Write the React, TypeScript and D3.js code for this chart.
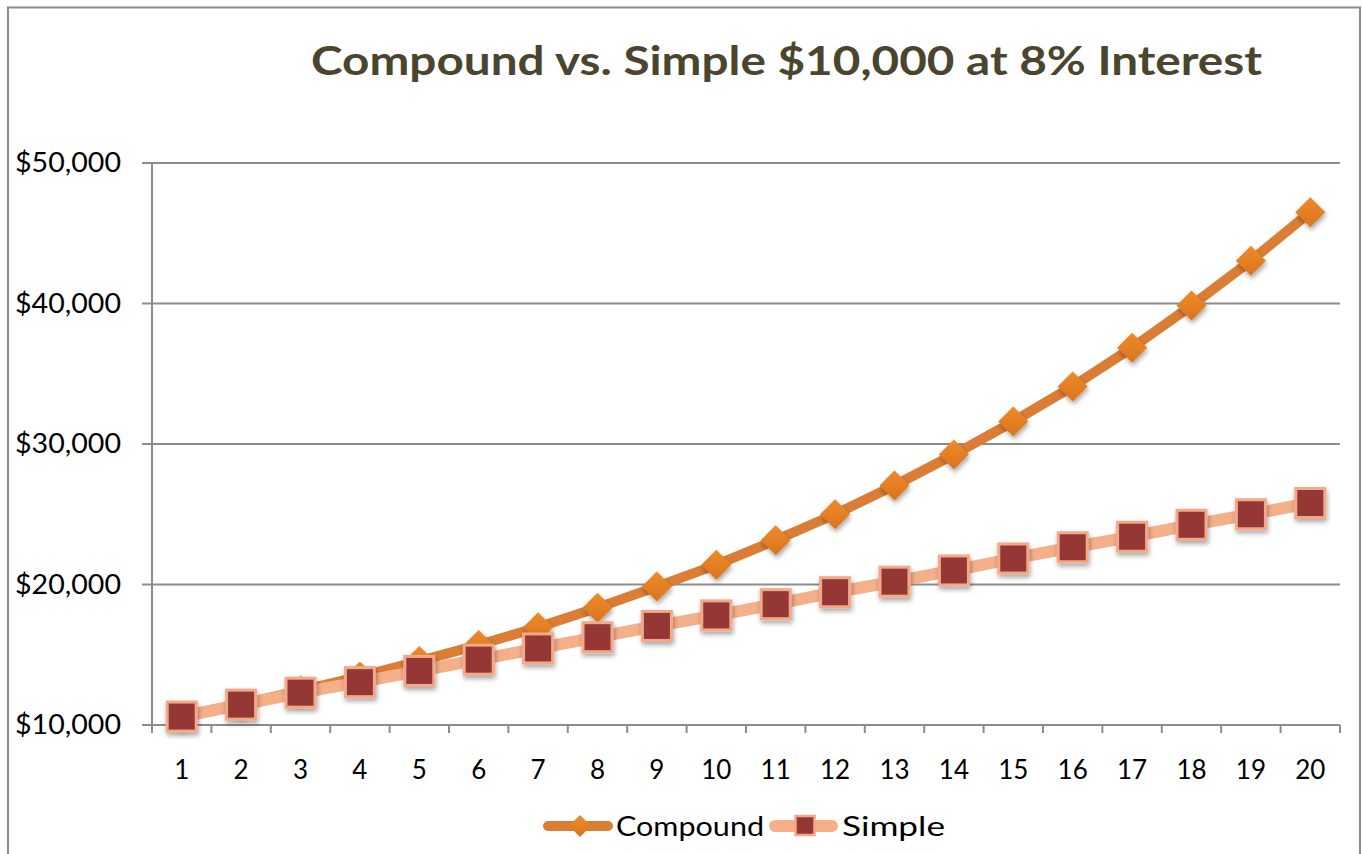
import React from "react";
import * as d3 from "d3";

const years = ["1","2","3","4","5","6","7","8","9","10","11","12","13","14","15","16","17","18","19","20"];
const compound = [10650, 11500, 12450, 13450, 14550, 15700, 16950, 18350, 19850, 21400, 23150, 25000, 27050, 29250, 31600, 34100, 36850, 39850, 43050, 46500];
const simple = [10600, 11450, 12300, 13050, 13850, 14650, 15450, 16250, 17050, 17800, 18600, 19450, 20200, 21000, 21850, 22650, 23400, 24250, 25000, 25800];
const yTicks = [10000, 20000, 30000, 40000, 50000];
const title = "Compound vs. Simple $10,000 at 8% Interest";

const W = 1362, H = 854;
const L = 152, R = 1340, T = 163, B = 725;
const FONT = "Lato, 'Open Sans', sans-serif";

export default function App() {
  const x = d3.scaleBand<string>().domain(years).range([L, R]);
  const y = d3.scaleLinear().domain([10000, 50000]).range([B, T]);
  const cx = (d: string) => (x(d) as number) + x.bandwidth() / 2;
  const line = d3.line<number>().x((_, i) => cx(years[i])).y(d => y(d));
  const fmt = (v: number) => "$" + d3.format(",")(v);
  const ticksX = [...years.map(d => x(d) as number), R];
  return (
    <svg width={W} height={H} style={{ position: "absolute", left: 0, top: 0 }}>
      <defs>
        <filter id="sh" x="-50%" y="-50%" width="200%" height="200%">
          <feDropShadow dx="1" dy="3" stdDeviation="2.5" floodColor="#000" floodOpacity="0.35" />
        </filter>
        <linearGradient id="dg" x1="0" y1="0" x2="0" y2="1">
          <stop offset="0" stopColor="#ef8a2a" />
          <stop offset="1" stopColor="#d9741e" />
        </linearGradient>
      </defs>
      <rect x={0} y={0} width={W} height={H} fill="#fff" />
      <rect x={8} y={7.5} width={1352} height={860} fill="#fff" stroke="#8c8c8c" strokeWidth={2} />
      <text x={311} y={75} textLength={951} lengthAdjust="spacingAndGlyphs" fontFamily={FONT} fontWeight="bold" fontSize={41} fill="#4b4530">{title}</text>
      {yTicks.map(t => (
        <g key={t}>
          <line x1={L - 10} x2={R} y1={y(t)} y2={y(t)} stroke="#8c8c8c" strokeWidth={2} />
          <text x={15} y={y(t) + 9} textLength={106} lengthAdjust="spacingAndGlyphs" fontFamily={FONT} fontSize={26} fill="#000">{fmt(t)}</text>
        </g>
      ))}
      <line x1={L} x2={L} y1={T} y2={B + 8} stroke="#8c8c8c" strokeWidth={2} />
      {ticksX.map((t, i) => (
        <line key={i} x1={t} x2={t} y1={B} y2={B + 8} stroke="#8c8c8c" strokeWidth={2} />
      ))}
      {years.map(d => (
        <text key={d} x={cx(d)} y={779} textAnchor="middle" fontFamily={FONT} fontSize={26} fill="#000">{d}</text>
      ))}
      <path d={line(compound) as string} fill="none" stroke="#db7d35" strokeWidth={10} strokeLinejoin="round" />
      {compound.map((v, i) => {
        const px = cx(years[i]), py = y(v);
        return <path key={i} filter="url(#sh)" d={`M${px},${py - 15}L${px + 15},${py}L${px},${py + 15}L${px - 15},${py}Z`} fill="url(#dg)" />;
      })}
      <path d={line(simple) as string} fill="none" stroke="#f5b08a" strokeWidth={12} strokeLinejoin="round" />
      {simple.map((v, i) => {
        const px = cx(years[i]), py = y(v);
        return <rect key={i} filter="url(#sh)" x={px - 14.5} y={py - 14.5} width={29} height={29} fill="#953735" stroke="#f2a987" strokeWidth={3} />;
      })}
      {/* legend */}
      <line x1={548} x2={608} y1={826} y2={826} stroke="#db7d35" strokeWidth={10} strokeLinecap="round" />
      <path d="M580,815L591,826L580,837L569,826Z" fill="url(#dg)" />
      <text x={616} y={836} textLength={148} lengthAdjust="spacingAndGlyphs" fontFamily={FONT} fontSize={26} fill="#000">Compound</text>
      <line x1={775} x2={832} y1={826} y2={826} stroke="#f5b08a" strokeWidth={12} strokeLinecap="round" />
      <rect x={795.5} y={816} width={19} height={19} fill="#953735" stroke="#f2a987" strokeWidth={2.5} />
      <text x={842} y={836} textLength={103} lengthAdjust="spacingAndGlyphs" fontFamily={FONT} fontSize={26} fill="#000">Simple</text>
    </svg>
  );
}
